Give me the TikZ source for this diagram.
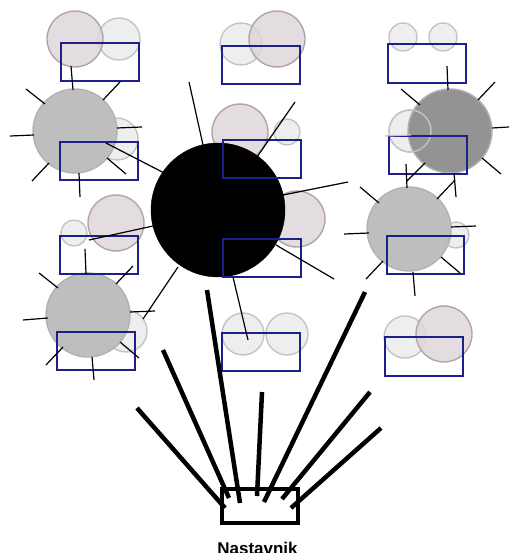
\documentclass[tikz,border=0pt]{standalone}
\usepackage{fontspec}
\setmainfont{Liberation Sans}
\usepackage{tikz}

\definecolor{pinkfill}{RGB}{222,214,218}
\definecolor{pinkdraw}{RGB}{178,162,170}
\definecolor{lightfill}{RGB}{238,238,238}
\definecolor{lightdraw}{RGB}{196,196,196}
\definecolor{greyfill}{RGB}{190,190,190}
\definecolor{greydraw}{RGB}{178,178,178}
\definecolor{darkfill}{RGB}{147,147,147}
\definecolor{navy}{RGB}{30,30,140}

\begin{document}
\begin{tikzpicture}[x=1pt, y=-1pt,
    pinkc/.style={fill=pinkfill, fill opacity=0.85, draw=pinkdraw, line width=1.4pt},
    lightc/.style={fill=lightfill, draw=lightdraw, line width=1.4pt},
    greyc/.style={fill=greyfill, draw=greydraw, line width=1.4pt},
    darkc/.style={fill=darkfill, draw=greydraw, line width=1.4pt},
    group/.style={draw=navy, line width=1.3pt},
    spoke/.style={line width=1.2pt},
    beam/.style={line width=4.5pt},
    teacher/.style={draw, line width=4pt, minimum width=76pt, minimum height=34pt, inner sep=0pt}]
    \useasboundingbox (0,0) rectangle (509,553);
    % small circles
    \draw[lightc] (119,39) circle [radius=21];
    \draw[lightc] (241,44) circle [radius=21];
    \draw[lightc] (117,139) circle [radius=21];
    \draw[lightc] (74,233) circle [radius=13];
    \draw[lightc] (126,331) circle [radius=21];
    \draw[lightc] (243,334) circle [radius=21];
    \draw[lightc] (287,334) circle [radius=21];
    \draw[lightc] (405,337) circle [radius=21];
    \draw[lightc] (287,132) circle [radius=13];
    \draw[lightc] (403,37) circle [radius=14];
    \draw[lightc] (443,37) circle [radius=14];
    \draw[lightc] (456,235) circle [radius=13];
    \draw[lightc] (410,131) circle [radius=21];
    \draw[pinkc] (75,39) circle [radius=28];
    \draw[pinkc] (277,39) circle [radius=28];
    \draw[pinkc] (240,132) circle [radius=28];
    \draw[pinkc] (116,223) circle [radius=28];
    \draw[pinkc] (297,219) circle [radius=28];
    \draw[pinkc] (444,334) circle [radius=28];
    % big circles
    \draw[greyc] (75,131) circle [radius=42];
    \draw[greyc] (88,315) circle [radius=42];
    \draw[greyc] (409,229) circle [radius=42];
    \draw[darkc] (450,131) circle [radius=42];
    \draw[lightdraw, line width=1.4pt] (410,131) circle [radius=21];
    \draw[fill] (218,210) circle [radius=67];
    % groups
    \draw[group] (61,43) rectangle (139,81);
    \draw[group] (222,46) rectangle (300,84);
    \draw[group] (388,44) rectangle (466,83);
    \draw[group] (60,142) rectangle (138,180);
    \draw[group] (223,140) rectangle (301,178);
    \draw[group] (389,136) rectangle (467,174);
    \draw[group] (60,236) rectangle (138,274);
    \draw[group] (223,239) rectangle (301,277);
    \draw[group] (387,236) rectangle (464,274);
    \draw[group] (57,332) rectangle (135,370);
    \draw[group] (222,333) rectangle (300,371);
    \draw[group] (385,337) rectangle (463,376);
    % spokes
    \draw[spoke] (71,66) -- (73,90) (120,82) -- (103,100) (26,89) -- (45,104)
        (10,136) -- (34,135) (32,181) -- (49,163) (117,128) -- (142,127)
        (106,143) -- (170,176) (107,158) -- (126,174) (79,173) -- (80,197);
    \draw[spoke] (189,82) -- (203,145) (295,102) -- (257,157) (283,195) -- (348,182)
        (276,245) -- (334,279) (233,277) -- (248,340);
    \draw[spoke] (447,66) -- (448,90) (401,89) -- (420,105) (495,82) -- (478,100)
        (492,128) -- (509,127) (482,158) -- (501,174) (406,164) -- (407,188)
        (425,163) -- (407,181) (454,173) -- (456,197);
    \draw[spoke, lightdraw] (385,136) -- (411,135);
    \draw[spoke] (455,180) -- (437,199) (360,187) -- (379,203) (344,234) -- (369,233)
        (366,279) -- (383,261) (451,227) -- (476,226) (441,257) -- (460,273)
        (413,272) -- (415,296);
    \draw[spoke] (89,240) -- (153,226) (85,249) -- (86,274) (133,266) -- (116,284);
    \draw[spoke] (39,273) -- (58,288) (23,320) -- (48,318) (46,365) -- (63,347)
        (130,312) -- (155,311) (143,319) -- (178,267) (120,342) -- (139,358)
        (92,357) -- (94,380);
    % teacher
    \node[teacher] (nastavnik) at (260,506) {};
    \node[anchor=base, font=\fontsize{17}{20}\selectfont\bfseries] (label) at (257.5,554) {Nastavnik};
    \coordinate (t1) at (137,408); \coordinate (n1) at (225,508);
    \coordinate (t2) at (163,350); \coordinate (n2) at (229,498);
    \coordinate (t3) at (207,290); \coordinate (n3) at (240,503);
    \coordinate (t4) at (262,392); \coordinate (n4) at (257,496);
    \coordinate (t5) at (365,292); \coordinate (n5) at (264,502);
    \coordinate (t6) at (370,392); \coordinate (n6) at (282,499);
    \coordinate (t7) at (381,428); \coordinate (n7) at (291,508);
    \draw[beam] (t1) -- (n1);
    \draw[beam] (t2) -- (n2);
    \draw[beam] (t3) -- (n3);
    \draw[beam] (t4) -- (n4);
    \draw[beam] (t5) -- (n5);
    \draw[beam] (t6) -- (n6);
    \draw[beam] (t7) -- (n7);
\end{tikzpicture}
\end{document}
